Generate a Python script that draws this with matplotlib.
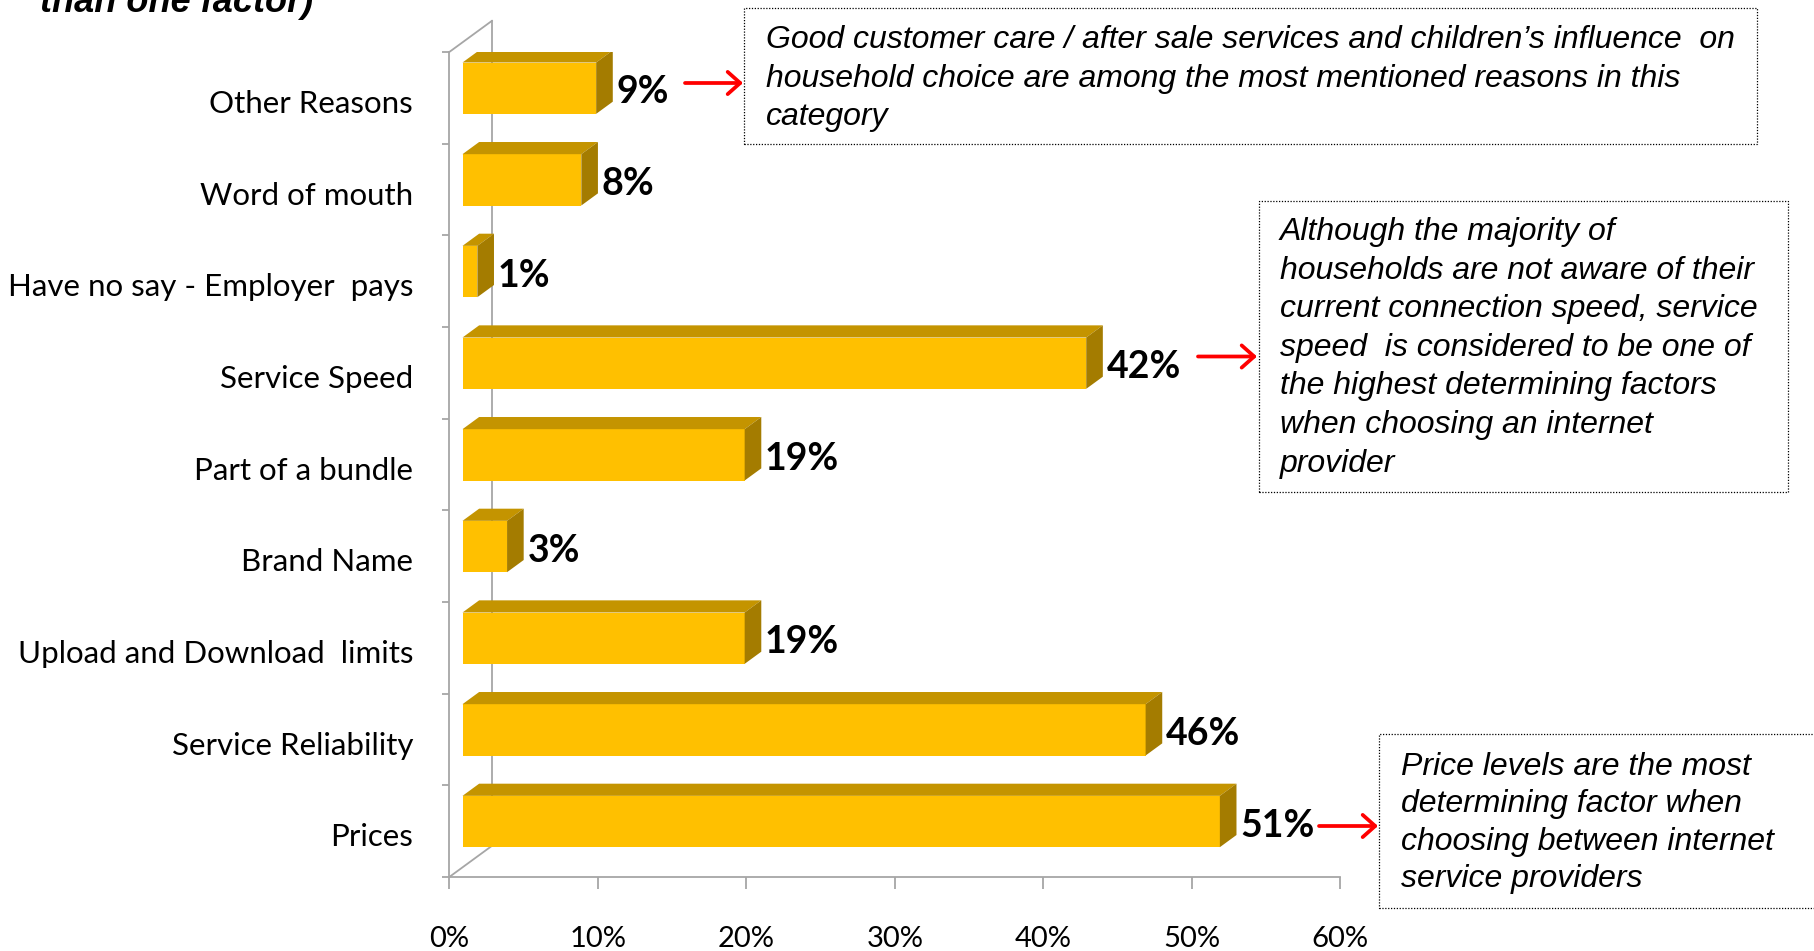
import matplotlib
matplotlib.use("Agg")
import matplotlib.pyplot as plt
from matplotlib.patches import Polygon, Rectangle, FancyArrowPatch

# survey data, bottom to top
categories = ["Prices", "Service Reliability", "Upload and Download  limits", "Brand Name",
              "Part of a bundle", "Service Speed", "Have no say - Employer  pays",
              "Word of mouth", "Other Reasons"]
shares = [51, 46, 19, 3, 19, 42, 1, 8, 9]
xticks = [0, 10, 20, 30, 40, 50, 60]

title_tail = "than one factor)"
note_other = ["Good customer care / after sale services and children\u2019s influence  on",
              "household choice are among the most mentioned reasons in this",
              "category"]
note_speed = ["Although the majority of",
              "households are not aware of their",
              "current connection speed, service",
              "speed  is considered to be one of",
              "the highest determining factors",
              "when choosing an internet",
              "provider"]
note_price = ["Price levels are the most",
              "determining factor when",
              "choosing between internet",
              "service providers"]

W, H = 1814, 951
FRONT, TOP, SIDE = "#FFC000", "#C49400", "#A47C00"
GREY = "#A6A6A6"
LABEL_FONT = ["Lato", "DejaVu Sans"]
NOTE_FONT = ["Liberation Sans", "DejaVu Sans"]

# fake 3d: depth of the chart box and where the bars sit in it
DX, DY = 2.87, 0.34
F0, F1 = 0.31, 0.70
BAR_H = 0.56


def fx(px):
    return px / W


def fy(py):
    return 1 - py / H


fig = plt.figure(figsize=(W / 100, H / 100), dpi=100)
ax = fig.add_axes([fx(449.3), fy(877), 891 / W, 825 / H])
ax.set_xlim(0, 60)
ax.set_ylim(-0.5, len(categories) - 0.5)

# back wall edge and the two diagonals joining it to the front axes
top = len(categories) - 0.5
ax.plot([DX, DX], [-0.5 + DY, top + DY], color=GREY, lw=1.3, clip_on=False, zorder=1)
ax.plot([0, DX], [top, top + DY], color=GREY, lw=1.3, clip_on=False, zorder=1)
ax.plot([0, DX], [-0.5, -0.5 + DY], color=GREY, lw=1.3, clip_on=False, zorder=1)

x0 = F0 * DX
ddx, ddy = (F1 - F0) * DX, (F1 - F0) * DY
ys = [i + F0 * DY for i in range(len(categories))]
ax.barh(ys, shares, left=x0, height=BAR_H, color=FRONT, zorder=3)
for y, v in zip(ys, shares):
    yt, yb = y + BAR_H / 2, y - BAR_H / 2
    ax.add_patch(Polygon([(x0, yt), (x0 + v, yt), (x0 + v + ddx, yt + ddy), (x0 + ddx, yt + ddy)],
                         closed=True, facecolor=TOP, edgecolor="none", zorder=3))
    ax.add_patch(Polygon([(x0 + v, yb), (x0 + v, yt), (x0 + v + ddx, yt + ddy), (x0 + v + ddx, yb + ddy)],
                         closed=True, facecolor=SIDE, edgecolor="none", zorder=3))
    ax.text(x0 + v + ddx + 0.25, y - F0 * DY + 0.06, f"{v}%", fontsize=27, fontweight="bold",
            family=LABEL_FONT, ha="left", va="center", zorder=4)

for side in ["top", "right"]:
    ax.spines[side].set_visible(False)
for side in ["left", "bottom"]:
    ax.spines[side].set_color(GREY)
    ax.spines[side].set_linewidth(1.3)

ax.set_yticks([i - 0.04 for i in range(len(categories))], categories, family=LABEL_FONT)
ax.set_yticks([i - 0.5 for i in range(len(categories) + 1)], minor=True)
ax.tick_params(axis="y", which="major", length=0, pad=26, labelsize=22.5)
ax.tick_params(axis="y", which="minor", length=5, width=1.3, color=GREY)
ax.set_xticks(xticks, [f"{t}%" for t in xticks], family=LABEL_FONT)
ax.tick_params(axis="x", length=8.6, width=1.3, color=GREY, pad=26.5, labelsize=21)

fig.text(fx(40), fy(12.5), title_tail, fontsize=26, fontweight="bold", style="italic",
         family=NOTE_FONT, va="baseline")


def note(lines, box, text_x, first_baseline, spacing):
    left, top_, right, bottom = box
    fig.add_artist(Rectangle((fx(left), fy(bottom)), fx(right) - fx(left), fy(top_) - fy(bottom),
                             transform=fig.transFigure, fill=False, edgecolor="black",
                             lw=0.9, ls=(0, (1, 1.3))))
    for k, line in enumerate(lines):
        fig.text(fx(text_x), fy(first_baseline + k * spacing), line, fontsize=23, style="italic",
                 family=NOTE_FONT, va="baseline", ha="left")


def arrow(x_start, x_end, y):
    fig.add_artist(FancyArrowPatch((fx(x_start), fy(y)), (fx(x_end), fy(y)),
                                   transform=fig.transFigure, color="red", lw=2.7,
                                   arrowstyle="->,head_length=0.45,head_width=0.4",
                                   mutation_scale=20, shrinkA=0, shrinkB=0))


note(note_other, (744, 8, 1757, 143.5), 766, 48, 38.5)
note(note_speed, (1259, 201, 1788, 492), 1280, 240, 38.6)
note(note_price, (1379, 734, 1825, 908), 1401, 775, 37.3)

arrow(685, 743, 83)
arrow(1198, 1257, 356.5)
arrow(1319, 1378, 826)

fig.savefig("out.png", dpi=100)
